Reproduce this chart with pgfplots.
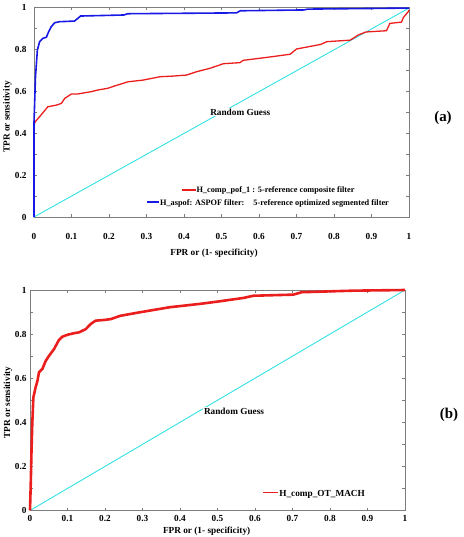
\documentclass[border=0pt]{standalone}
\usepackage{fontspec}
\setmainfont{Liberation Serif}
\usepackage{pgfplots}
\pgfplotsset{compat=1.18}
\definecolor{cyanl}{RGB}{50,225,228}
\definecolor{myred}{RGB}{235,30,30}
\definecolor{myblue}{RGB}{25,25,230}
\definecolor{axgray}{RGB}{125,125,125}
\newcommand{\tf}{\fontsize{9.3}{11}\selectfont\bfseries}
\pgfplotsset{
  rocstyle/.style={
    scale only axis, width=375bp,
    xmin=0, xmax=1, ymin=0, ymax=1,
    clip=false,
    axis line style={axgray, line width=0.6bp},
    every tick/.style={axgray, line width=0.5bp},
    major tick length=3bp,
    xtick={0,0.1,0.2,0.3,0.4,0.5,0.6,0.7,0.8,0.9,1},
    xticklabels={0,0.1,0.2,0.3,0.4,0.5,0.6,0.7,0.8,0.9,1},
    ytick={0,0.1,0.2,0.3,0.4,0.5,0.6,0.7,0.8,0.9,1},
    yticklabels={0,,0.2,,0.4,,0.6,,0.8,,1},
    tick label style={font=\tf},
    label style={font=\tf},
    xlabel={FPR or (1- specificity)},
    ylabel={TPR or sensitivity},
  }
}
\begin{document}
\begin{tikzpicture}
\useasboundingbox (0,0) rectangle (464bp,-537bp);
% ---------------- (a) ----------------
\begin{axis}[rocstyle, height=210bp, at={(34bp,-217bp)}, anchor=south west,
  xticklabel style={yshift=-12.5bp},
  yticklabel style={xshift=-4bp},
  xlabel style={at={(axis description cs:0.48,-0.171)}, anchor=center},
  ylabel style={at={(axis description cs:-0.0707,0.476)}, anchor=center},
  legend style={at={(axis cs:0.624,0.095)}, anchor=center, draw=none, fill=none,
    font=\fontsize{8.3}{10}\selectfont\bfseries, row sep=2.3bp,
    nodes={inner sep=1bp, text height=6bp, text depth=2bp}},
  legend cell align=center,
  legend image code/.code={},
]
\addplot[cyanl, line width=0.9bp, forget plot] coordinates {(0,0) (1,0.995)};
\addplot[myred, line width=1.3bp] coordinates {
(0,0) (0,0.44) (0.004,0.455) (0.015,0.478) (0.024,0.497) (0.037,0.525) (0.06,0.533)
(0.073,0.541) (0.082,0.565) (0.1,0.586) (0.117,0.586) (0.153,0.597) (0.171,0.605)
(0.197,0.613) (0.215,0.624) (0.251,0.644) (0.291,0.652) (0.336,0.668) (0.371,0.671)
(0.407,0.676) (0.434,0.692) (0.469,0.708) (0.505,0.73) (0.549,0.735) (0.558,0.746)
(0.629,0.762) (0.683,0.775) (0.7,0.8) (0.765,0.822) (0.781,0.835) (0.843,0.842)
(0.865,0.867) (0.885,0.881) (0.94,0.887) (0.949,0.922) (0.98,0.928) (0.985,0.95)
(0.998,0.978) (1,0.986)};
\addlegendentry{\textcolor{myred}{\rule[2.4bp]{14bp}{1.6bp}}\hspace{1bp}H\_comp\_pof\_1 : 5-reference composite filter}
\addplot[myblue, line width=1.6bp] coordinates {
(0,0) (0,0.45) (0.004,0.67) (0.009,0.795) (0.015,0.835) (0.024,0.851) (0.033,0.856)
(0.039,0.882) (0.046,0.906) (0.055,0.925) (0.068,0.93) (0.108,0.933) (0.117,0.946)
(0.124,0.957) (0.24,0.962) (0.25,0.968) (0.54,0.972) (0.55,0.982) (0.72,0.986)
(0.73,0.99) (0.9,0.993) (1,0.995)};
\addlegendentry{\textcolor{myblue}{\rule[2.4bp]{12bp}{1.6bp}}\hspace{1bp}H\_aspof: ASPOF filter:\hspace{9bp}5-reference optimized segmented filter}
\node[fill=white, inner sep=1bp, font=\tf] at (axis cs:0.55,0.5) {Random Guess};
\end{axis}
\node[font=\fontsize{15}{17}\selectfont\bfseries] at (443bp,-118bp) {(a)};
% ---------------- (b) ----------------
\begin{axis}[rocstyle, height=220.5bp, at={(30bp,-510.5bp)}, anchor=south west,
  xticklabel style={yshift=-1.5bp},
  xlabel style={at={(axis description cs:0.471,-0.093)}, anchor=center},
  ylabel style={at={(axis description cs:-0.0587,0.49)}, anchor=center},
  legend style={at={(axis cs:0.757,0.075)}, anchor=center, draw=none, fill=none,
    font=\tf, nodes={inner sep=1bp}},
  legend cell align=center,
  legend image code/.code={},
]
\addplot[cyanl, line width=0.9bp, forget plot] coordinates {(0,0) (1,1)};
\addplot[myred, line width=2.6bp] coordinates {
(0,0) (0.002,0.12) (0.004,0.27) (0.006,0.39) (0.009,0.513) (0.015,0.559) (0.02,0.589)
(0.024,0.627) (0.033,0.642) (0.042,0.679) (0.051,0.702) (0.064,0.732) (0.077,0.773)
(0.086,0.788) (0.1,0.797) (0.117,0.804) (0.131,0.808) (0.149,0.823) (0.162,0.846)
(0.175,0.861) (0.197,0.864) (0.215,0.868) (0.241,0.883) (0.293,0.899) (0.373,0.922)
(0.453,0.937) (0.507,0.949) (0.569,0.964) (0.596,0.974) (0.702,0.979) (0.725,0.99)
(0.862,0.997) (1,1)};
\addlegendentry{\textcolor{myred}{\rule[2.8bp]{15bp}{1.6bp}}\hspace{1.5bp}H\_comp\_OT\_MACH}
\node[fill=white, inner sep=1bp, font=\tf] at (axis cs:0.544,0.45) {Random Guess};
\end{axis}
\node[font=\fontsize{15}{17}\selectfont\bfseries] at (449bp,-415bp) {(b)};
\end{tikzpicture}
\end{document}
